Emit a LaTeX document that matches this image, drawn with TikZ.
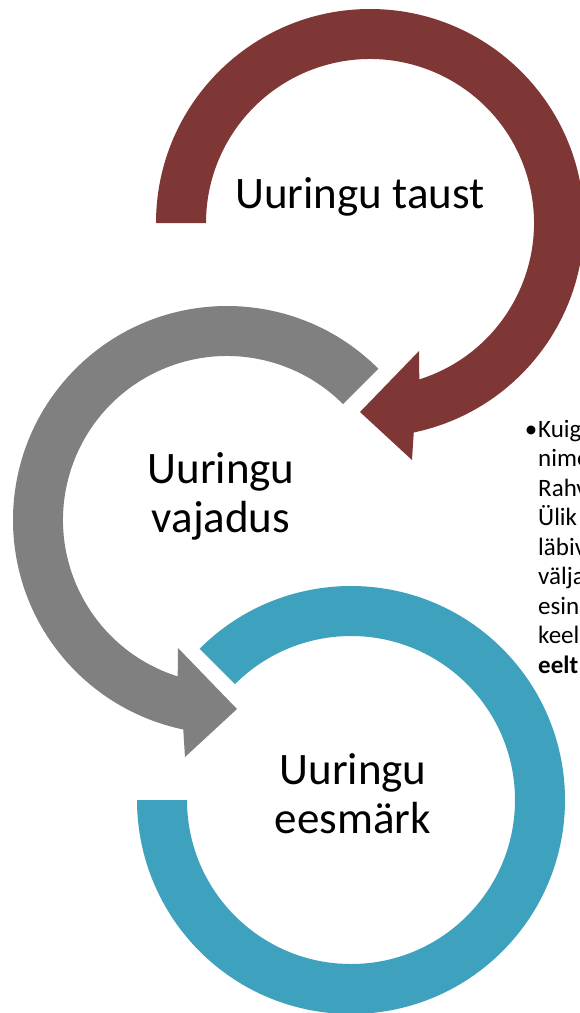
\documentclass[tikz,border=0pt]{standalone}
\usepackage{fontspec}
\setmainfont{Carlito}
\usetikzlibrary{calc}
\definecolor{redc}{RGB}{127,55,53}
\definecolor{grayc}{RGB}{128,128,128}
\definecolor{tealc}{RGB}{62,161,190}
\tikzset{
  ringlabel/.style={font=\fontsize{45}{49}\selectfont, align=center, inner sep=0pt, text=black},
  sidetext/.style={font=\fontsize{25}{29.5}\selectfont, align=left, inner sep=0pt, anchor=base west, text=black}
}
\begin{document}
\begin{tikzpicture}[x=1pt,y=1pt]
\useasboundingbox (0,0) rectangle (580,-1013);
\fill[white] (0,0) rectangle (580,-1013);
\clip (0,0) rectangle (580,-1013);
\coordinate (rc) at (370,-223);
\coordinate (gc) at (227,-520);
\coordinate (tc) at (351,-800);
% teal ring
\fill[tealc] ($(tc)+(135:214pt)$) arc[start angle=135,end angle=-180,radius=214pt]
  -- ($(tc)+(180:164pt)$) arc[start angle=-180,end angle=135,radius=164pt] -- cycle;
% gray ring with arrow
\fill[grayc] ($(gc)+(45:214pt)$) arc[start angle=45,end angle=258.2,radius=214pt]
  -- ($(gc)+(-42,-237)$) -- ($(gc)+(10,-189)$) -- ($(gc)+(-49,-128)$)
  -- ($(gc)+(252.5:164pt)$) arc[start angle=252.5,end angle=45,radius=164pt] -- cycle;
% red ring with arrow
\fill[redc] ($(rc)+(180:214pt)$) arc[start angle=180,end angle=-78.2,radius=214pt]
  -- ($(rc)+(42,-237)$) -- ($(rc)+(-10,-189)$) -- ($(rc)+(49,-128)$)
  -- ($(rc)+(-72.5:164pt)$) arc[start angle=-72.5,end angle=180,radius=164pt] -- cycle;
% labels
\node[ringlabel, anchor=base] (taust) at (360,-208) {Uuringu taust};
\node[ringlabel, anchor=base] (vajadus) at (221,-532) {Uuringu\\vajadus};
\node[ringlabel, anchor=base] (eesmark) at (353,-833) {Uuringu\\eesmärk};
\node[sidetext] (side) at (538,-673) {\llap{•\hspace{1pt}}Kuig\\nime\\Rahv\\Ülik\\läbiv\\välja\\esin\\keel\\\textbf{eelt}};
\end{tikzpicture}
\end{document}
